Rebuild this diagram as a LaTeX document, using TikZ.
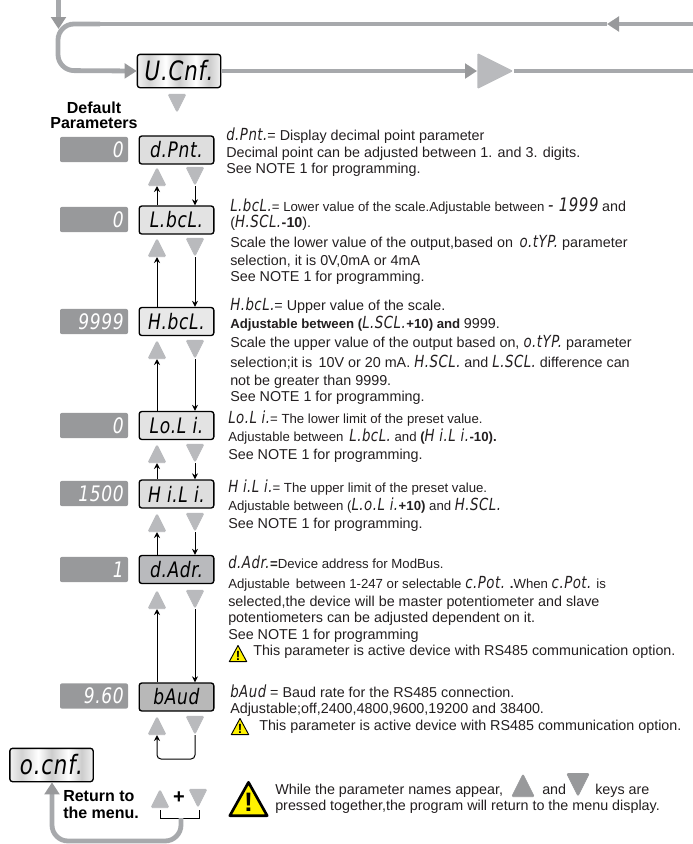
\documentclass[tikz,border=0pt]{standalone}
\usepackage{fontspec}
\usepackage{xcolor}
\usetikzlibrary{shapes.geometric,arrows.meta}
\setmainfont{Liberation Sans}
\newfontfamily\segfont[LetterSpace=3,FakeStretch=0.8]{DejaVu Sans}
\newcommand{\tsize}[1]{\fontsize{#1}{#1}\selectfont}
\newcommand{\seg}[1]{{\tsize{12.5}\segfont\itshape #1}}
\definecolor{keygray}{HTML}{B9BABD}
\definecolor{linegray}{HTML}{A7A9AC}
\definecolor{tipgray}{HTML}{98999B}
\definecolor{valgray}{HTML}{98999B}
\definecolor{inkgray}{HTML}{231F20}
\pgfdeclarehorizontalshading{silver}{100bp}{color(0bp)=(white!55!gray);color(22bp)=(white);color(32bp)=(white!65!gray);color(42bp)=(white);color(50bp)=(white!60!gray);color(60bp)=(white);color(68bp)=(white!60!gray);color(78bp)=(white);color(100bp)=(white!60!gray)}
\tikzset{
  dispbox/.style={draw=black, line width=1pt, rounded corners=2pt, inner sep=0pt, minimum width=56pt, minimum height=21pt, font=\tsize{16}\segfont\itshape},
  silverbox/.style={dispbox, minimum width=62.5pt, minimum height=25pt, shading=silver, font=\tsize{20}\segfont\itshape},
  valbox/.style={fill=valgray, rounded corners=1.5pt, inner sep=0pt, minimum width=51pt, minimum height=19pt},
  valtext/.style={inner sep=0pt, anchor=east, text=white, font=\tsize{16}\segfont\itshape},
  keyup/.style={isosceles triangle, isosceles triangle stretches, shape border rotate=90, fill=keygray, draw=keygray, line width=.5pt, rounded corners=1pt, inner sep=0pt, minimum width=13.5pt, minimum height=13.5pt, anchor=lower side},
  keydn/.style={keyup, shape border rotate=-90, anchor=apex},
  warnsign/.style={isosceles triangle, isosceles triangle stretches, shape border rotate=90, fill=yellow, draw=black, line join=round, line width=.7pt, inner sep=0pt, minimum width=13pt, minimum height=12pt, anchor=lower side},
  wmark/.style={inner sep=0pt, font=\tsize{10}\bfseries},
  txt/.style={inner sep=0pt, anchor=base west, text=inkgray, font=\tsize{10.75}},
  small/.style={txt, font=\tsize{9.9}},
  headtxt/.style={inner sep=0pt, anchor=base, font=\tsize{12}\bfseries},
  wire/.style={line width=.75pt, -{Stealth[length=4.5pt,width=4.5pt]}},
  pipe/.style={linegray, line width=3.6pt},
  pipetip/.style={pipe, -{Triangle[length=9pt,width=11pt,color=tipgray]}},
}
\begin{document}
\begin{tikzpicture}[x=0.75pt, y=-0.75pt]
  \useasboundingbox (0,0) rectangle (693,844);
  % menu boxes
  \node[silverbox] (ucnf) at (179,71) {U.Cnf.};
  \node[silverbox] (ocnf) at (51.5,765) {o.cnf.};
  \node[keydn] (dnz) at (177,113) {};
  % parameter boxes
  \node[dispbox, fill=black!13] (dpnt) at (176.5,150) {d.Pnt.};
  \node[dispbox, fill=black!11] (lbcl) at (176.5,220) {L.bcL.};
  \node[dispbox, fill=black!9] (hbcl) at (176.5,321.5) {H.bcL.};
  \node[dispbox, fill=black!11] (loli) at (176.5,425.5) {Lo.L i.};
  \node[dispbox, fill=black!13] (hili) at (176.5,494) {H i.L i.};
  \node[dispbox, fill=keygray] (dadr) at (176.5,569.5) {d.Adr.};
  \node[dispbox, fill=black!28] (baud) at (176.5,697) {bAud};
  % default values
  \node[headtxt] (defa) at (94,113) {Default};
  \node[headtxt] (defb) at (94,128) {Parameters};
  \node[valbox] (vala) at (94,149.5) {};
  \node[valbox] (valb) at (94,219.5) {};
  \node[valbox] (valc) at (94,321.5) {};
  \node[valbox] (vald) at (94,425.5) {};
  \node[valbox] (vale) at (94,493.5) {};
  \node[valbox] (valf) at (94,569.5) {};
  \node[valbox] (valg) at (94,696) {};
  \node[valtext] (vta) at (124,149.5) {0};
  \node[valtext] (vtb) at (124,219.5) {0};
  \node[valtext] (vtc) at (124,321.5) {9999};
  \node[valtext] (vtd) at (124,425.5) {0};
  \node[valtext] (vte) at (124,493.5) {1500};
  \node[valtext] (vtf) at (124,569.5) {1};
  \node[valtext] (vtg) at (124,696) {9.60};
  % keys
  \node[keyup] (upa) at (157,186) {};
  \node[keydn] (dna) at (195,186) {};
  \node[keyup] (upb) at (157,257) {};
  \node[keydn] (dnb) at (195,257) {};
  \node[keyup] (upc) at (157,359) {};
  \node[keydn] (dnc) at (195,359) {};
  \node[keyup] (upd) at (157,463) {};
  \node[keydn] (dnd) at (195,463) {};
  \node[keyup] (upe) at (157,532) {};
  \node[keydn] (dne) at (195,532) {};
  \node[keyup] (upf) at (157,609) {};
  \node[keydn] (dnf) at (195,609) {};
  \node[keyup] (upg) at (157,735) {};
  \node[keydn] (dng) at (195,735) {};
  \node[keyup] (uph) at (160,808) {};
  \node[keydn] (dnh) at (198,808) {};
  \node[inner sep=0pt, font=\tsize{15}\bfseries] (plus) at (179,798) {+};
  % connectors between the keys and boxes
  \draw[wire] (lbcl.north -| upa.lower side) -- (upa.lower side);
  \draw[wire] (dna.apex) -- (dna.apex |- lbcl.north);
  \draw[wire] (hbcl.north -| upb.lower side) -- (upb.lower side);
  \draw[wire] (dnb.apex) -- (dnb.apex |- hbcl.north);
  \draw[wire] (loli.north -| upc.lower side) -- (upc.lower side);
  \draw[wire] (dnc.apex) -- (dnc.apex |- loli.north);
  \draw[wire] (hili.north -| upd.lower side) -- (upd.lower side);
  \draw[wire] (dnd.apex) -- (dnd.apex |- hili.north);
  \draw[wire] (dadr.north -| upe.lower side) -- (upe.lower side);
  \draw[wire] (dne.apex) -- (dne.apex |- dadr.north);
  \draw[wire] (baud.north -| upf.lower side) -- (upf.lower side);
  \draw[wire] (dnf.apex) -- (dnf.apex |- baud.north);
  \draw[wire, rounded corners=3pt] (dng.apex) -- (195,759) -- (157,759) -- (upg.lower side);
  % menu pipes
  \coordinate (topin) at (58.5,0);
  \coordinate (topjoin) at (58.5,29);
  \coordinate (topr) at (693,24);
  \coordinate (topmid) at (607,24);
  \coordinate (botr) at (693,71);
  \coordinate (brl) at (160,810);
  \coordinate (brr) at (199,810);
  \coordinate (brm) at (181,818);
  \node[isosceles triangle, isosceles triangle stretches, fill=keygray, rounded corners=1pt, inner sep=0pt, minimum width=27pt, minimum height=27pt, anchor=apex] (bigkey) at (514,71) {};
  \draw[pipe] (topmid) -- (75,24);
  \draw[pipetip, rounded corners=12pt] (100,24) -- (58,24) -- (58,70.5) -- (ucnf.west);
  \draw[pipetip] (topin) -- (topjoin);
  \draw[pipetip] (topr) -- (topmid);
  \draw[pipetip] (ucnf.east) -- (bigkey.lower side);
  \draw[pipe] (bigkey.apex) -- (botr);
  \draw[line width=.75pt] (brl) -- (160,818) -- (199,818) -- (brr);
  \draw[pipetip, rounded corners=12pt] (brm) -- (181,841) -- (52,841) -- (ocnf.south -| 52,0);
  % description
  \node[txt] (ta) at (226,140) {\seg{d.Pnt.}= Display decimal point parameter};
  \node[txt] (tb) at (226,157) {Decimal point can be adjusted between 1. and 3. digits.};
  \node[txt] (tc) at (226,173) {See NOTE 1 for programming.};
  \node[small] (td) at (230,211) {\seg{L.bcL.}= Lower value of the scale.Adjustable between {\tsize{14}\segfont\itshape- 1999} \tsize{10.75}and};
  \node[txt] (te) at (230,227) {(\seg{H.SCL.}\textbf{-10}).};
  \node[txt] (tf) at (230,247) {Scale the lower value of the output,based on\, \seg{o.tYP.} parameter};
  \node[txt] (tg) at (230,265) {selection, it is 0V,0mA or 4mA};
  \node[txt] (th) at (230,281) {See NOTE 1 for programming.};
  \node[txt] (ti) at (230,310) {\seg{H.bcL.}= Upper value of the scale.};
  \node[small] (tj) at (230,328) {\textbf{Adjustable between (}\seg{L.SCL.}\textbf{+10) and} \tsize{10.75}9999.};
  \node[txt] (tk) at (230,347) {Scale the upper value of the output based on, \seg{o.tYP.} parameter};
  \node[txt] (tl) at (230,367) {selection;it is\, 10V or 20 mA. \seg{H.SCL.} and \seg{L.SCL.} difference can};
  \node[txt] (tm) at (230,385) {not be greater than 9999.};
  \node[txt] (tn) at (230,401) {See NOTE 1 for programming.};
  \node[small] (to) at (228,423) {\seg{Lo.L i.}= The lower limit of the preset value.};
  \node[small] (tp) at (228,441) {Adjustable between\, \seg{L.bcL.} and \textbf{(}\seg{H i.L i.}\textbf{-10).}};
  \node[txt] (tq) at (228,459) {See NOTE 1 for programming.};
  \node[small] (tr) at (228,492) {\seg{H i.L i.}= The upper limit of the preset value.};
  \node[small] (ts) at (228,510) {Adjustable between (\seg{L.o.L i.}\textbf{+10)} and \seg{H.SCL.}};
  \node[txt] (tt) at (228,528) {See NOTE 1 for programming.};
  \node[small] (tu) at (228,568) {\seg{d.Adr.}\textbf{=}Device address for ModBus.};
  \node[small] (tv) at (228,588) {Adjustable\, between 1-247 or selectable \seg{c.Pot.} \textbf{.}When \seg{c.Pot.} is};
  \node[txt] (tw) at (228,606) {selected,the device will be master potentiometer and slave};
  \node[txt] (tx) at (228,622) {potentiometers can be adjusted dependent on it.};
  \node[txt] (ty) at (228,639) {See NOTE 1 for programming};
  \node[warnsign] (wa) at (238,662) {};
  \node[wmark] (wma) at (238,656) {!};
  \node[txt] (tz) at (253,655) {This parameter is active device with RS485 communication option.};
  \node[txt] (ua) at (230,697) {\seg{bAud} = Baud rate for the RS485 connection.};
  \node[txt] (ub) at (230,713) {Adjustable;off,2400,4800,9600,19200 and 38400.};
  \node[warnsign] (wb) at (240,735) {};
  \node[wmark] (wmb) at (240,729) {!};
  \node[txt] (uc) at (259,730) {This parameter is active device with RS485 communication option.};
  % return to the menu
  \node[headtxt, anchor=base west] (ra) at (63,801) {Return to};
  \node[headtxt, anchor=base west] (rb) at (63,818) {the menu.};
  \node[warnsign, line width=2pt, minimum width=28pt, minimum height=25pt] (wc) at (248.5,817) {};
  \node[inner sep=0pt, font=\tsize{20}\bfseries] (wmc) at (248.5,802) {!};
  \node[txt] (va) at (275,794) {While the parameter names appear,};
  \node[keyup, fill=tipgray, draw=tipgray, minimum width=17pt, minimum height=17pt] (upk) at (523,797) {};
  \node[txt] (vb) at (542,794) {and};
  \node[keydn, fill=tipgray, draw=tipgray, minimum width=17pt, minimum height=17pt] (dnk) at (578,797) {};
  \node[txt] (vc) at (595,794) {keys are};
  \node[txt] (vd) at (275,810) {pressed together,the program will return to the menu display.};
\end{tikzpicture}
\end{document}
